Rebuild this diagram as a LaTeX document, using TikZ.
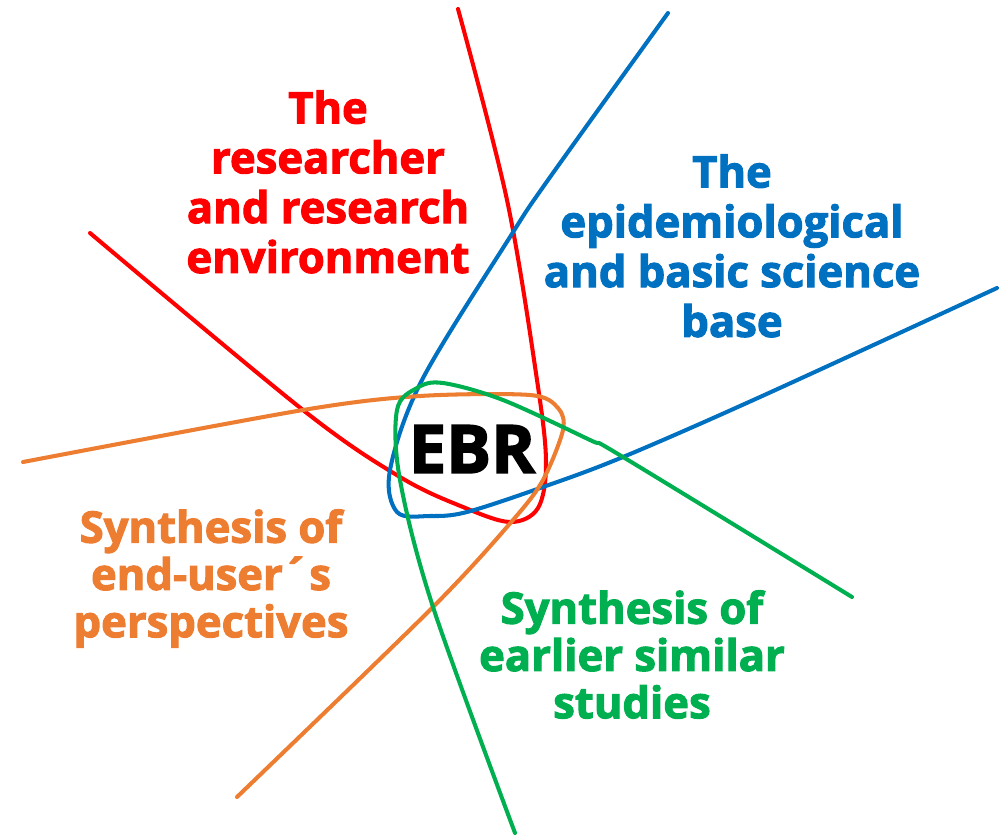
\documentclass[tikz,border=0pt]{standalone}
\usepackage{fontspec}
\setmainfont{Open Sans}[BoldFeatures={FakeBold=2.4}]
\usepackage{tikz}
\usepackage{xcolor}
\usetikzlibrary{positioning}
\definecolor{ebrred}{HTML}{FF0000}
\definecolor{ebrblue}{HTML}{0070C0}
\definecolor{ebrorange}{HTML}{ED7D31}
\definecolor{ebrgreen}{HTML}{00B050}
\tikzset{
  strand/.style={line width=2.3pt,line cap=round,line join=round},
  arealabel/.style={align=center,anchor=north,inner sep=0pt,
                 font=\fontsize{24.8}{28.35}\selectfont\bfseries},
  core/.style={inner sep=0pt,font=\fontsize{38}{40}\selectfont\bfseries}
}

\begin{document}
\begin{tikzpicture}[x=0.02cm,y=-0.02cm]
  \useasboundingbox (0,0) rectangle (1007,836);
  % the four strands
  \draw[strand,ebrred] plot[smooth,tension=0.55] coordinates
    {(458,9) (507,200) (537,380) (546,462) (538,508) (510,522) (463,507) (400,477) (303,410) (90,233)};
  \draw[strand,ebrblue] plot[smooth,tension=0.55] coordinates
    {(668,13) (548,180) (510,237) (422,380) (390,470) (397,512) (430,516) (467,512) (543,487) (623,457) (760,397) (997,288)};
  \draw[strand,ebrorange] plot[smooth,tension=0.5] coordinates
    {(23,462) (303,410) (420,396) (530,395) (558,408) (563,430) (543,480) (513,520) (433,607) (237,797)};
  \draw[strand,ebrgreen] plot[smooth,tension=0.55] coordinates
    {(515,833) (433,607) (400,480) (397,410) (417,388) (443,383) (503,400) (590,440) (623,457) (852,597)};
  % labels
  \node[core] (ebr) at (472,449) {EBR};
  \node[arealabel,text=ebrred] (researcher) at (328,90)
    {The\\researcher\\and research\\environment};
  \node[arealabel,text=ebrblue] (science) at (732,154)
    {The\\epidemiological\\and basic science\\base};
  \node[arealabel,text=ebrorange,font=\fontsize{24.8}{26.9}\selectfont\bfseries] (enduser) at (211,509)
    {Synthesis of\\end-user´s\\perspectives};
  \node[arealabel,text=ebrgreen,font=\fontsize{24.8}{26.9}\selectfont\bfseries] (earlier) at (632,590)
    {Synthesis of\\earlier similar\\studies};
\end{tikzpicture}
\end{document}
